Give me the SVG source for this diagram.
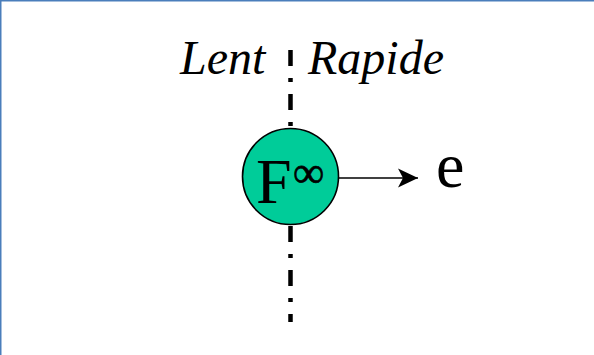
<svg xmlns="http://www.w3.org/2000/svg" width="594" height="355" viewBox="0 0 594 355">
  <style>
    .lbl { font-family: "Liberation Serif", "Times New Roman", serif; font-style: italic; font-size: 48px; fill: #000; }
    .big { font-family: "Liberation Serif", "Times New Roman", serif; fill: #000; }
    .divider { stroke: #000; stroke-width: 4.5; stroke-dasharray: 16 12 4 12; fill: none; }
    .conn { stroke: #000; stroke-width: 1.6; fill: none; }
  </style>
  <defs>
    <marker id="arrow" markerWidth="22" markerHeight="22" refX="20" refY="11" orient="auto" markerUnits="userSpaceOnUse">
      <path d="M0,1.5 L20,11 L0,20.5 L5,11 Z" fill="#000"/>
    </marker>
  </defs>
  <rect x="0" y="0" width="594" height="355" fill="#fff"/>
  <path d="M0.75,355 L0.75,0.75 L594,0.75" stroke="#4a7ebb" stroke-width="1.5" fill="none"/>

  <g id="divider">
    <line class="divider" x1="290.5" y1="50" x2="290.5" y2="322"/>
  </g>

  <g id="label-lent">
    <text class="lbl" x="180" y="74">Lent</text>
  </g>
  <g id="label-rapide">
    <text class="lbl" x="308" y="74">Rapide</text>
  </g>

  <g id="connectors">
    <line class="conn" x1="338.5" y1="178" x2="418" y2="178" marker-end="url(#arrow)"/>
  </g>

  <g id="node-f">
    <circle cx="290.5" cy="176.5" r="48" fill="#00cc99" stroke="#000" stroke-width="1.6"/>
    <text class="big" x="256" y="203" font-size="64">F</text>
    <text class="big" x="293" y="187" font-size="44" stroke="#000" stroke-width="0.6">∞</text>
  </g>

  <g id="node-e">
    <text class="big" x="436" y="187" font-size="64">e</text>
  </g>
</svg>
